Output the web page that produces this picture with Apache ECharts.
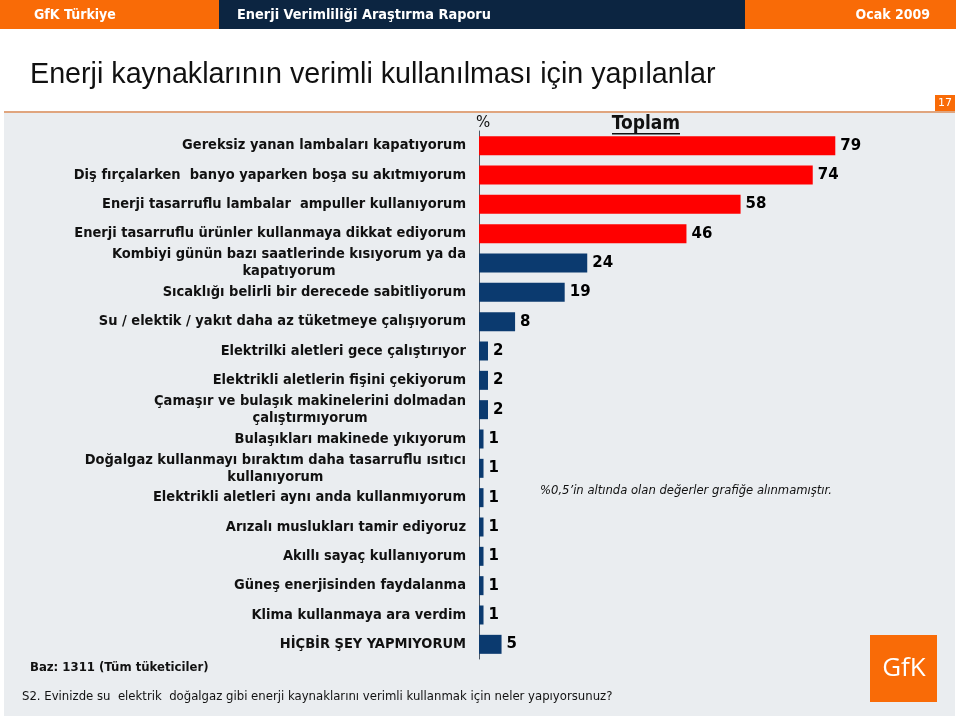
<!DOCTYPE html>
<html>
<head>
<meta charset="utf-8">
<script src="https://cdn.jsdelivr.net/npm/echarts@6/dist/echarts.min.js"></script>
<style>
  html, body { margin: 0; padding: 0; background: #fff; }
  #chart { width: 960px; height: 716px; }
</style>
</head>
<body>
<div id="chart"></div>
<script>
// kategoriler (yukarıdan aşağı)
const categories = [
  'Gereksiz yanan lambaları kapatıyorum',
  'Diş fırçalarken  banyo yaparken boşa su akıtmıyorum',
  'Enerji tasarruflu lambalar  ampuller kullanıyorum',
  'Enerji tasarruflu ürünler kullanmaya dikkat ediyorum',
  'Kombiyi günün bazı saatlerinde kısıyorum ya da\nkapatıyorum',
  'Sıcaklığı belirli bir derecede sabitliyorum',
  'Su / elektik / yakıt daha az tüketmeye çalışıyorum',
  'Elektrilki aletleri gece çalıştırıyor',
  'Elektrikli aletlerin fişini çekiyorum',
  'Çamaşır ve bulaşık makinelerini dolmadan\nçalıştırmıyorum',
  'Bulaşıkları makinede yıkıyorum',
  'Doğalgaz kullanmayı bıraktım daha tasarruflu ısıtıcı\nkullanıyorum',
  'Elektrikli aletleri aynı anda kullanmıyorum',
  'Arızalı muslukları tamir ediyoruz',
  'Akıllı sayaç kullanıyorum',
  'Güneş enerjisinden faydalanma',
  'Klima kullanmaya ara verdim',
  'HİÇBİR ŞEY YAPMIYORUM'
];
const values = [79, 74, 58, 46, 24, 19, 8, 2, 2, 2, 1, 1, 1, 1, 1, 1, 1, 5];
const redCount = 4; // ilk 4 çubuk kırmızı

const ORANGE = '#f96b07';
const NAVY = '#0c2541';
const RED = '#ff0000';
const BLUE = '#0b3a6f';
const LABEL_FONT = "'DejaVu Sans Condensed', 'DejaVu Sans', sans-serif";

const chart = echarts.init(document.getElementById('chart'));

const option = {
  backgroundColor: '#ffffff',
  animation: false,
  grid: {
    left: 479,
    right: 30,
    top: 131,
    bottom: 57
  },
  xAxis: {
    type: 'value',
    min: 0,
    max: 100,
    show: false
  },
  yAxis: {
    type: 'category',
    inverse: true,
    data: categories,
    axisLine: { show: true, lineStyle: { color: '#4d5866', width: 1 } },
    axisTick: { show: false },
    splitLine: { show: false },
    axisLabel: {
      interval: 0,
      margin: 13,
      align: 'right',
      color: '#111',
      fontFamily: LABEL_FONT,
      fontWeight: 'bold',
      fontSize: 14.5,
      lineHeight: 17,
      formatter: function (v) {
        if (v.indexOf('\n') < 0) return v;
        // iki satırlı etiketlerde satırlar ortalı
        return v.split('\n').map(s => '{c|' + s + '}').join('\n');
      },
      rich: {
        c: {
          align: 'center',
          fontFamily: LABEL_FONT,
          fontWeight: 'bold',
          fontSize: 14.5,
          lineHeight: 17,
          color: '#111'
        }
      }
    }
  },
  series: [{
    type: 'bar',
    barWidth: 19,
    data: values.map((v, i) => ({
      value: v,
      itemStyle: { color: i < redCount ? RED : BLUE }
    })),
    label: {
      show: true,
      position: 'right',
      distance: 5,
      color: '#000',
      fontFamily: "'DejaVu Sans', sans-serif",
      fontWeight: 'bold',
      fontSize: 15
    }
  }],
  graphic: [
    // gri panel
    { type: 'rect', z: -10, shape: { x: 4, y: 112, width: 951, height: 604 }, style: { fill: '#eaedf0' } },
    { type: 'rect', z: -9, shape: { x: 4, y: 111, width: 951, height: 2 }, style: { fill: '#e0a57e' } },
    // başlık çubuğu
    { type: 'rect', shape: { x: 0, y: 0, width: 219, height: 29 }, style: { fill: ORANGE } },
    { type: 'rect', shape: { x: 219, y: 0, width: 526, height: 29 }, style: { fill: NAVY } },
    { type: 'rect', shape: { x: 745, y: 0, width: 211, height: 29 }, style: { fill: ORANGE } },
    { type: 'text', x: 34, y: 15, style: { text: 'GfK Türkiye', fill: '#fff', font: "bold 14px 'DejaVu Sans Condensed', sans-serif", verticalAlign: 'middle' } },
    { type: 'text', x: 237, y: 15, style: { text: 'Enerji Verimliliği Araştırma Raporu', fill: '#fff', font: "bold 14.4px 'DejaVu Sans Condensed', sans-serif", verticalAlign: 'middle' } },
    { type: 'text', x: 930, y: 15, style: { text: 'Ocak 2009', fill: '#fff', font: "bold 14px 'DejaVu Sans Condensed', sans-serif", align: 'right', verticalAlign: 'middle' } },
    // sayfa başlığı
    { type: 'text', x: 30, y: 75, style: { text: 'Enerji kaynaklarının verimli kullanılması için yapılanlar', fill: '#111', font: "28.7px 'Liberation Sans', Arial, sans-serif", verticalAlign: 'middle' } },
    // sayfa no
    { type: 'rect', shape: { x: 935, y: 95, width: 20, height: 16 }, style: { fill: ORANGE } },
    { type: 'text', x: 945, y: 103, style: { text: '17', fill: '#fff', font: "11px 'DejaVu Sans', sans-serif", align: 'center', verticalAlign: 'middle' } },
    // % ve Toplam
    { type: 'text', x: 476, y: 123, style: { text: '%', fill: '#111', font: "15px 'DejaVu Sans', sans-serif", verticalAlign: 'middle' } },
    { type: 'text', x: 646, y: 124, style: { text: 'Toplam', fill: '#111', font: "bold 19px 'DejaVu Sans Condensed', 'DejaVu Sans', sans-serif", align: 'center', verticalAlign: 'middle' } },
    { type: 'rect', shape: { x: 612, y: 133, width: 68, height: 1.5 }, style: { fill: '#111' } },
    // not
    { type: 'text', x: 540, y: 491, style: { text: '%0,5\u2019in altında olan değerler grafiğe alınmamıştır.', fill: '#111', font: "italic 12.9px 'DejaVu Sans Condensed', 'DejaVu Sans', sans-serif", verticalAlign: 'middle' } },
    // alt metinler
    { type: 'text', x: 30, y: 668, style: { text: 'Baz: 1311 (Tüm tüketiciler)', fill: '#111', font: "bold 13px 'DejaVu Sans Condensed', 'DejaVu Sans', sans-serif", verticalAlign: 'middle' } },
    { type: 'text', x: 22, y: 697, style: { text: 'S2. Evinizde su  elektrik  doğalgaz gibi enerji kaynaklarını verimli kullanmak için neler yapıyorsunuz?', fill: '#111', font: "13px 'DejaVu Sans Condensed', 'DejaVu Sans', sans-serif", verticalAlign: 'middle' } },
    // GfK logo
    { type: 'rect', shape: { x: 870, y: 635, width: 67, height: 67 }, style: { fill: ORANGE } },
    { type: 'text', x: 904, y: 669, style: { text: 'GfK', fill: '#fff', font: "26px 'Open Sans', 'DejaVu Sans', sans-serif", align: 'center', verticalAlign: 'middle' } }
  ]
};

chart.setOption(option);
</script>
</body>
</html>
